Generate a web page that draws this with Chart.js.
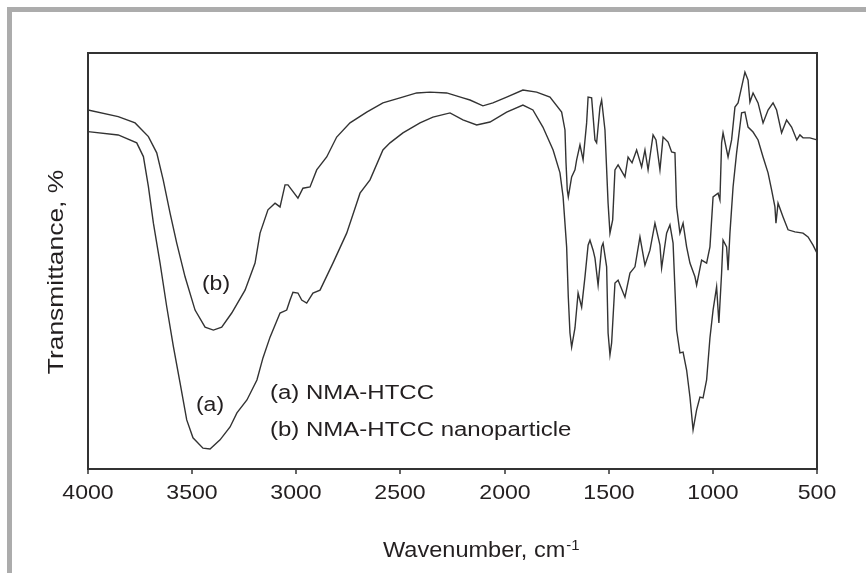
<!DOCTYPE html>
<html><head><meta charset="utf-8">
<script src="https://cdn.jsdelivr.net/npm/chart.js@4/dist/chart.umd.min.js"></script>
<style>html,body{margin:0;padding:0;background:#fff;}#wrap{width:866px;height:573px;}</style>
</head><body><div id="wrap"><canvas id="c" width="866" height="573"></canvas></div>
<script>
const xTickLabels = [4000, 3500, 3000, 2500, 2000, 1500, 1000, 500];
const seriesNames = ["(a) NMA-HTCC", "(b) NMA-HTCC nanoparticle"];
const curveLabels = ["(a)", "(b)"];
const xTitle = "Wavenumber, cm";
const xTitleSup = "-1";
const yTitle = "Transmittance, %";

const waveA = [4000,3855,3766,3734,3710,3686,3654,3622,3590,3558,3526,3496,3448,3414,3366,3318,3285,3237,3189,3160,3126,3078,3046,3030,3016,2992,2974,2950,2920,2886,2824,2758,2710,2694,2646,2584,2550,2488,2406,2344,2262,2200,2134,2070,1990,1912,1864,1816,1767,1734,1719,1702,1694,1686,1678,1662,1647,1630,1614,1599,1590,1575,1566,1551,1534,1527,1510,1503,1494,1486,1470,1455,1422,1398,1374,1350,1326,1302,1278,1254,1246,1222,1206,1191,1174,1158,1143,1126,1110,1095,1078,1062,1047,1030,1014,999,982,971,958,951,934,927,918,903,886,862,846,831,807,783,759,735,718,702,697,687,663,639,606,567,543,519,500];
const transA = [81.1,80.3,78.4,75.1,67.9,59.1,49.5,39.0,29.4,20.7,11.8,7.5,5.0,4.8,7.0,10.1,13.5,16.6,21.4,26.7,31.7,37.5,38.2,40.6,42.5,42.3,40.6,39.9,42.3,43.0,49.5,56.7,63.9,66.3,69.5,76.7,78.4,80.8,83.2,84.6,85.6,83.9,82.7,83.4,85.8,87.5,86.3,82.2,76.7,71.2,65.4,53.4,41.3,32.7,29.3,33.9,42.3,38.9,46.2,53.8,55.0,52.6,50.7,44.2,53.4,54.3,48.6,32.7,27.4,30.3,44.7,45.4,41.3,47.1,48.6,55.8,49.0,52.6,59.1,53.8,48.3,56.7,58.7,54.3,33.4,27.9,28.1,23.8,17.3,9.4,14.2,17.3,17.1,21.4,31.5,38.2,43.8,35.1,47.1,55.0,53.4,47.8,56.7,67.8,76.0,85.6,85.8,82.2,81.0,79.1,75.0,71.2,67.1,63.0,59.1,63.9,60.6,57.5,57.0,56.7,55.8,53.8,51.9];

const waveB = [4000,3855,3774,3710,3670,3639,3606,3574,3534,3486,3438,3398,3358,3310,3246,3198,3174,3136,3102,3078,3054,3040,3022,2992,2968,2934,2902,2854,2806,2742,2662,2584,2502,2422,2358,2278,2200,2166,2104,2056,1990,1912,1846,1782,1726,1710,1705,1699,1694,1678,1662,1654,1638,1623,1606,1599,1582,1566,1558,1542,1534,1518,1503,1494,1481,1470,1455,1422,1407,1388,1366,1342,1326,1311,1287,1273,1254,1239,1215,1198,1182,1174,1158,1143,1126,1110,1086,1078,1054,1030,1014,999,975,966,958,951,927,910,894,879,862,846,831,822,807,783,759,735,711,694,670,646,622,597,582,567,534,500];
const transB = [86.3,84.7,83.2,79.9,76.0,69.5,61.5,54.3,46.2,38.2,34.1,33.4,34.1,37.5,43.0,49.5,56.7,62.3,63.9,63.0,68.3,68.3,67.1,65.1,67.5,67.8,71.9,75.0,79.8,83.2,85.8,88.0,89.2,90.4,90.6,90.4,89.2,88.7,87.3,88.0,89.4,91.1,90.6,89.4,85.8,81.5,73.6,67.1,65.4,70.2,71.9,74.3,77.9,74.3,83.2,89.4,89.2,79.1,78.4,87.0,88.7,81.5,63.9,56.7,59.9,71.9,73.1,70.2,75.0,73.6,76.7,72.6,76.7,71.9,80.3,79.1,71.9,79.8,78.6,76.2,76.0,63.0,56.7,59.1,53.4,49.5,46.2,44.2,50.2,49.5,53.4,65.4,66.3,64.7,78.4,80.8,75.0,79.1,87.0,88.0,91.8,95.4,93.5,88.2,90.4,88.0,83.2,86.3,88.0,86.3,80.8,83.9,82.2,79.1,80.3,79.6,79.6,79.1];

function zip(xs, ys) {
  const n = Math.min(xs.length, ys.length);
  const out = [];
  for (let i = 0; i < n; i++) out.push({x: xs[i], y: ys[i]});
  return out;
}

const INK = '#231f20';
const FONT = '"Liberation Sans", Arial, Helvetica, sans-serif';

function txt(ctx, s, x, y, size, sx, align, base) {
  ctx.save();
  ctx.font = size + 'px ' + FONT;
  ctx.fillStyle = INK;
  ctx.textAlign = align || 'left';
  ctx.textBaseline = base || 'alphabetic';
  ctx.translate(x, y);
  ctx.scale(sx, 1);
  ctx.fillText(s, 0, 0);
  ctx.restore();
}

const decor = {
  id: 'decor',
  beforeDraw(chart) {
    const ctx = chart.ctx;
    ctx.save();
    ctx.fillStyle = '#ffffff';
    ctx.fillRect(0, 0, chart.width, chart.height);
    ctx.fillStyle = '#acacac';
    ctx.fillRect(7, 7, chart.width - 7, 5);
    ctx.fillRect(7, 7, 5, chart.height - 7);
    ctx.restore();
  },
  afterDraw(chart) {
    const ctx = chart.ctx;
    const a = chart.chartArea;
    const xs = chart.scales.x;
    ctx.save();
    ctx.strokeStyle = '#333333';
    ctx.lineWidth = 2;
    ctx.strokeRect(a.left, a.top, a.right - a.left, a.bottom - a.top);
    ctx.lineWidth = 1.5;
    for (const t of xTickLabels) {
      const px = Math.round(xs.getPixelForValue(t));
      ctx.beginPath();
      ctx.moveTo(px, a.bottom);
      ctx.lineTo(px, a.bottom + 5);
      ctx.stroke();
      txt(ctx, String(t), px, 499, 21, 1.1, 'center');
    }
    ctx.restore();
    // axis titles
    txt(ctx, xTitle, 383, 557, 22, 1.07, 'left');
    ctx.save();
    ctx.font = '22px ' + FONT;
    const w = ctx.measureText(xTitle).width * 1.07;
    ctx.restore();
    txt(ctx, xTitleSup, 383 + w + 1, 550, 14, 1.07, 'left');
    ctx.save();
    ctx.translate(63, 272);
    ctx.rotate(-Math.PI / 2);
    txt(ctx, yTitle, 0, 0, 22, 1.2, 'center');
    ctx.restore();
    // annotations
    txt(ctx, curveLabels[1], 216, 290, 20, 1.15, 'center');
    txt(ctx, curveLabels[0], 210, 411, 20, 1.15, 'center');
    txt(ctx, seriesNames[0], 270, 399, 20, 1.2, 'left');
    txt(ctx, seriesNames[1], 270, 436, 20, 1.2, 'left');
  }
};

new Chart(document.getElementById('c'), {
  type: 'line',
  data: {
    datasets: [
      { label: seriesNames[0], data: zip(waveA, transA), borderColor: '#333333', borderWidth: 1.4, pointRadius: 0, tension: 0, fill: false },
      { label: seriesNames[1], data: zip(waveB, transB), borderColor: '#333333', borderWidth: 1.4, pointRadius: 0, tension: 0, fill: false }
    ]
  },
  options: {
    responsive: false,
    animation: false,
    devicePixelRatio: 1,
    layout: { padding: { left: 88, top: 53, right: 49, bottom: 104 } },
    plugins: { legend: { display: false }, tooltip: { enabled: false } },
    scales: {
      x: { type: 'linear', reverse: true, min: 500, max: 4000, display: false },
      y: { type: 'linear', min: 0, max: 100, display: false }
    }
  },
  plugins: [decor]
});
</script>
</body></html>
